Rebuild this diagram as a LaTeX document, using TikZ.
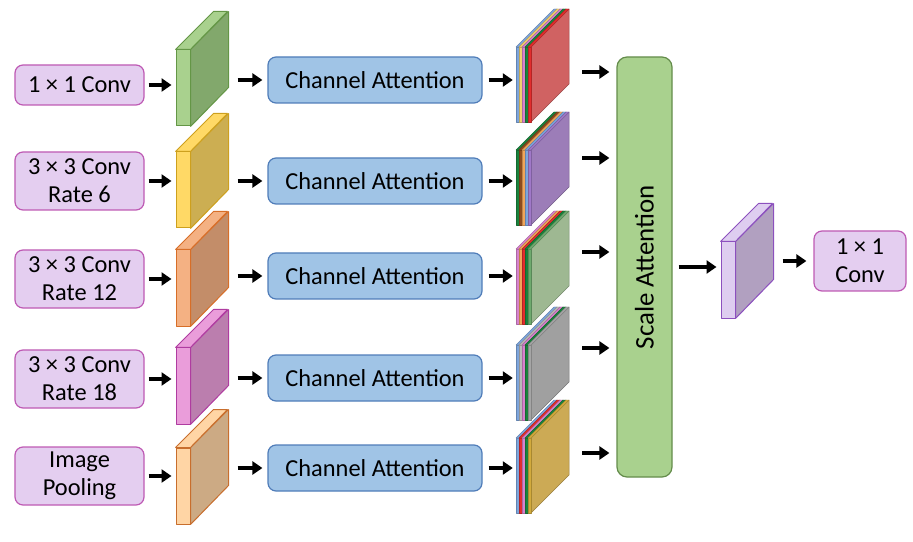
\documentclass[tikz,border=0pt]{standalone}
\usepackage{fontspec}
\setmainfont{Carlito}
\usepackage{tikz}
\usetikzlibrary{arrows.meta,positioning,calc}

\definecolor{convfill}{RGB}{228,206,240}
\definecolor{convedge}{RGB}{190,90,180}
\definecolor{cafill}{RGB}{160,196,230}
\definecolor{caedge}{RGB}{80,125,185}
\definecolor{safill}{RGB}{169,209,142}
\definecolor{saedge}{RGB}{100,140,75}
% slab colours: front / side / edge
\definecolor{gfront}{RGB}{169,209,142}\definecolor{gside}{RGB}{130,168,108}\definecolor{gedge}{RGB}{100,150,70}
\definecolor{yfront}{RGB}{255,217,102}\definecolor{yside}{RGB}{204,174,82}\definecolor{yedge}{RGB}{205,160,30}
\definecolor{ofront}{RGB}{244,177,131}\definecolor{oside}{RGB}{195,141,105}\definecolor{oedge}{RGB}{215,110,40}
\definecolor{pfront}{RGB}{234,157,218}\definecolor{pside}{RGB}{187,126,174}\definecolor{pedge}{RGB}{175,60,160}
\definecolor{lofront}{RGB}{255,213,165}\definecolor{loside}{RGB}{204,170,132}\definecolor{loedge}{RGB}{200,110,45}
\definecolor{vfront}{RGB}{222,205,240}\definecolor{vside}{RGB}{177,160,192}\definecolor{vedge}{RGB}{140,80,190}
% layer colours of the stacks
\definecolor{lblue}{RGB}{125,165,220}
\definecolor{lyellow}{RGB}{240,208,110}
\definecolor{lpink}{RGB}{215,130,205}
\definecolor{ldgreen}{RGB}{25,130,60}
\definecolor{lred}{RGB}{225,45,45}
\definecolor{lbrown}{RGB}{140,75,30}
\definecolor{lorange}{RGB}{240,165,90}
\definecolor{lpurple}{RGB}{160,120,200}
\definecolor{llgray}{RGB}{185,185,185}
\definecolor{lgray}{RGB}{165,165,165}
\definecolor{lsage}{RGB}{110,170,110}
\definecolor{lgold}{RGB}{210,170,60}
\definecolor{sred}{RGB}{208,98,98}
\definecolor{spurple}{RGB}{156,125,184}
\definecolor{ssage}{RGB}{158,184,146}
\definecolor{sgray}{RGB}{160,160,160}
\definecolor{sgold}{RGB}{204,170,85}

\begin{document}
\begin{tikzpicture}[x=1bp,y=-1bp,line join=bevel,
  every node/.style={font=\fontsize{24.5}{28}\selectfont},
  convbox/.style={draw=convedge,fill=convfill,rounded corners=8bp,line width=1.2bp,
    minimum width=129bp,align=center,inner sep=2bp},
  cabox/.style={draw=caedge,fill=cafill,rounded corners=8bp,line width=1.2bp,
    minimum width=214bp,minimum height=46bp},
  featfront/.style={draw,line width=1bp,minimum width=14bp,minimum height=76bp,inner sep=0pt},
  arr/.style={-{Triangle[length=10bp,width=13bp]},line width=4bp,shorten <=4bp,shorten >=4bp},
]
%%
\useasboundingbox (0,0) rectangle (913,542);
% input branches
\foreach \r/\y/\h/\txt in {1/85/40/{1 × 1 Conv},2/181/58/{3 × 3 Conv\\Rate 6},
    3/279/58/{3 × 3 Conv\\Rate 12},4/379/58/{3 × 3 Conv\\Rate 18},5/476/58/{Image\\Pooling}}
  \node (conv\r) at (79.5,\y) [convbox,minimum height=\h bp] {\txt};
% feature maps
\foreach \r/\y/\fc/\sc/\ec in {1/88/gfront/gside/gedge,2/190/yfront/yside/yedge,
    3/288/ofront/oside/oedge,4/386/pfront/pside/pedge,5/486/lofront/loside/loedge}{
  \node (feat\r) at (183,\y) [featfront,fill=\fc,draw=\ec] {};
  \filldraw[fill=\sc,draw=\ec,line width=1bp] (feat\r.north east) -- ++(38,-38) -- ++(0,76) -- (feat\r.south east) -- cycle;
  \filldraw[fill=\fc,draw=\ec,line width=1bp] (feat\r.north west) -- ++(38,-38) -- ++(14,0) -- (feat\r.north east) -- cycle;
}
% channel attention
\foreach \r/\y in {1/80,2/181,3/276,4/378,5/468}
  \node (ca\r) at (375,\y) [cabox] {Channel Attention};
% re-weighted stacks
\foreach \r/\yt/\cols/\side in {1/47/{lblue,lyellow,lpink,ldgreen,lred}/sred,
    2/150/{ldgreen,lbrown,lorange,lblue,lpurple}/spurple,
    3/249/{lpink,lorange,lred,ldgreen,lsage}/ssage,
    4/345/{lblue,llgray,lpink,ldgreen,lgray}/sgray,
    5/438/{lblue,lred,lpink,ldgreen,lgold}/sgold}{
  \node (att\r) at (523.5,\yt+37.5) [inner sep=0pt,minimum width=15bp,minimum height=75bp] {};
  \foreach \c [count=\i] in \cols {
    \pgfmathsetmacro\xl{516+3*(\i-1)}
    \filldraw[fill=\side,draw=\side!75!black,line width=0.5bp] (\xl+3,\yt) -- ++(38,-38) -- ++(0,75) -- (\xl+3,\yt+75) -- cycle;
    \filldraw[fill=\c,draw=\c!80!black,line width=0.4bp] (\xl,\yt) rectangle ++(3,75);
    \filldraw[fill=\c,draw=\c!80!black,line width=0.4bp] (\xl,\yt) -- ++(38,-38) -- ++(3,0) -- (\xl+3,\yt) -- cycle;
  }
}
% scale attention
\node (sa) at (644.5,267) [draw=saedge,fill=safill,rounded corners=10bp,line width=1.2bp,
  minimum width=55bp,minimum height=420bp,inner sep=0pt] {};
\node at (sa.center) [rotate=90,font=\fontsize{27}{30}\selectfont] {Scale Attention};
% fused map and output
\node (fused) at (728,280) [featfront,fill=vfront,draw=vedge] {};
\filldraw[fill=vside,draw=vedge,line width=1bp] (fused.north east) -- ++(38,-38) -- ++(0,76) -- (fused.south east) -- cycle;
\filldraw[fill=vfront,draw=vedge,line width=1bp] (fused.north west) -- ++(38,-38) -- ++(14,0) -- (fused.north east) -- cycle;
\node (out) at (860,261) [convbox,minimum width=92bp,minimum height=60bp] {1 × 1\\Conv};
% arrows
\foreach \r in {1,...,5}{
  \draw[arr] (conv\r.east) -- (conv\r.east -| feat\r.west);
  \draw[arr,shorten <=47bp,shorten >=5bp] (feat\r.east |- ca\r.west) -- (ca\r.west);
  \draw[arr,shorten <=6bp,shorten >=3bp] (ca\r.east) -- (ca\r.east -| att\r.west);
}
\foreach \r/\y in {1/72,2/158,3/252,4/348,5/453}{
  \coordinate (q\r) at (582,\y);
  \draw[arr,shorten <=0bp,shorten >=7bp] (q\r) -- (q\r -| sa.west);
}
\draw[arr,shorten <=6bp] (sa.east) -- (sa.east -| fused.west);
\draw[arr,shorten <=47bp,shorten >=7bp] (fused.east |- out.west) -- (out.west);
%
\end{tikzpicture}
\end{document}
